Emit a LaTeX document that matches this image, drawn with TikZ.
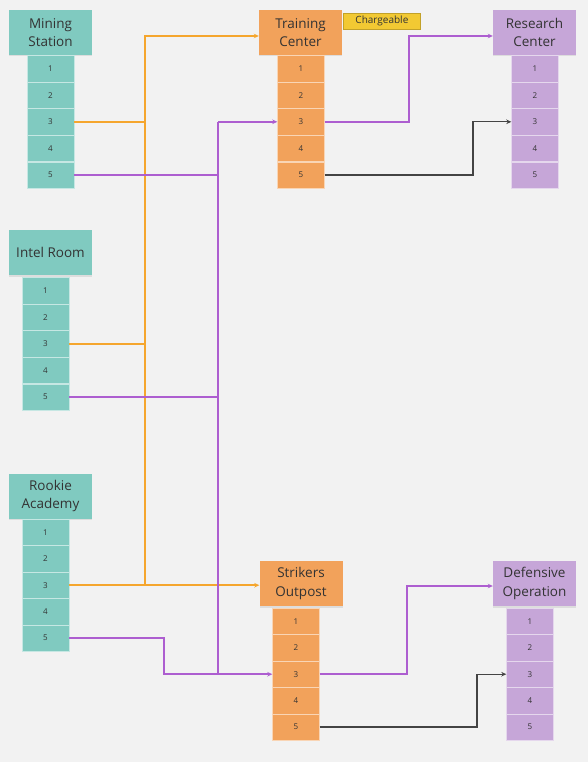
\documentclass[tikz,border=0pt]{standalone}
\usepackage{fontspec}
\setmainfont{Open Sans}
\usetikzlibrary{arrows.meta,positioning,shadows,calc}

\definecolor{bgc}{HTML}{F2F2F2}
\definecolor{tealc}{HTML}{80CAC0}
\definecolor{orangec}{HTML}{F2A25B}
\definecolor{purplec}{HTML}{C6A6D8}
\definecolor{yellowc}{HTML}{F2C933}
\definecolor{orline}{HTML}{F5A62E}
\definecolor{puline}{HTML}{AD5ED0}
\definecolor{grline}{HTML}{444444}
\definecolor{txt}{HTML}{333333}

\begin{document}
\begin{tikzpicture}[
    x=1pt, y=-1pt,
    hdr/.style={minimum width=83pt, minimum height=45pt, inner sep=1pt, align=center,
      text=txt, font=\fontsize{13.5}{18.5}\selectfont,
      drop shadow={opacity=0.18, shadow xshift=0pt, shadow yshift=-1.5pt}},
    item/.style={minimum width=47pt, minimum height=26.5pt, inner sep=0pt,
      draw=white!55!#1, line width=0.4pt, fill=#1, text=txt, font=\fontsize{8}{9}\selectfont},
    tag/.style={minimum width=77pt, minimum height=16pt, inner sep=0pt, fill=yellowc,
      draw=yellowc!80!black, text=txt, font=\fontsize{10}{11}\selectfont},
    arrow/.style={-{Stealth[length=5pt, width=4.5pt]}},
    orl/.style={draw=orline, line width=1.6pt},
    pul/.style={draw=puline, line width=1.6pt},
    grl/.style={draw=grline, line width=1.3pt},
  ]
  \fill[bgc] (0,0) rectangle (588,762);
  \useasboundingbox (0,0) rectangle (588,762);

  % headers
  \node[hdr, fill=tealc] (ms) at (50.5,32.5) {Mining\\Station};
  \node[hdr, fill=tealc] (ir) at (50.5,252.5) {Intel Room};
  \node[hdr, fill=tealc] (ra) at (50.5,496) {Rookie\\Academy};
  \node[hdr, fill=orangec] (tc) at (300.5,32.5) {Training\\Center};
  \node[hdr, fill=orangec] (so) at (301,583.5) {Strikers\\Outpost};
  \node[hdr, fill=purplec] (rc) at (534.5,32.5) {Research\\Center};
  \node[hdr, fill=purplec] (do) at (534.5,583.5) {Defensive\\Operation};

  \node[tag, anchor=north west] (chg) at ([xshift=1pt, yshift=-3pt]tc.north east) {Chargeable};

  % slots
  \foreach \i in {1,...,5} {
    \node[item=tealc] (ms\i) at (50.5, 42 + 26.6*\i) {\i};
    \node[item=tealc] (ir\i) at (45.5, 264 + 26.6*\i) {\i};
    \node[item=tealc] (ra\i) at (45.5, 506 + 26.4*\i) {\i};
    \node[item=orangec] (tc\i) at (301, 42 + 26.6*\i) {\i};
    \node[item=orangec] (so\i) at (296, 595 + 26.4*\i) {\i};
    \node[item=purplec] (rc\i) at (535, 42 + 26.6*\i) {\i};
    \node[item=purplec] (do\i) at (530, 595 + 26.4*\i) {\i};
  }

  % routing columns
  \coordinate (ox) at (145,0);
  \coordinate (px) at (218,0);
  \coordinate (rx) at (164,0);
  \coordinate (tx) at (409,0);
  \coordinate (gx) at (473,0);
  \coordinate (sx) at (407,0);
  \coordinate (hx) at (477,0);

  % orange links
  \draw[orl] (ms3.east) -- (ox |- ms3.east);
  \draw[orl] (ir3.east) -- (ox |- ir3.east);
  \draw[orl, arrow] (ra3.east) -- (ra3.east -| so.west);
  \draw[orl, arrow] (ox |- ra3.east) |- ([yshift=-3.5pt]tc.west);

  % purple links
  \draw[pul] (ms5.east) -- (ms5.east -| px);
  \draw[pul, line width=2.4pt] (ir5.east) -- (ir5.east -| px);
  \draw[pul] (ra5.east) -| (rx |- so3.west) -- (so3.west -| px);
  \draw[pul] (px |- tc3.west) -- (px |- so3.west);
  \draw[pul, line width=2.2pt, arrow] (px |- tc3.west) -- (tc3.west);
  \draw[pul, arrow] (px |- so3.west) -- (so3.west);
  \draw[pul, arrow] (tc3.east) -- (tc3.east -| tx) |- ([yshift=-3.5pt]rc.west);
  \draw[pul, arrow] (so3.east) -- (so3.east -| sx) |- ([yshift=-2.5pt]do.west);

  % grey links
  \draw[grl, arrow] (tc5.east) -- (tc5.east -| gx) |- (rc3.west);
  \draw[grl, arrow] (so5.east) -- (so5.east -| hx) |- (do3.west);
\end{tikzpicture}
\end{document}
